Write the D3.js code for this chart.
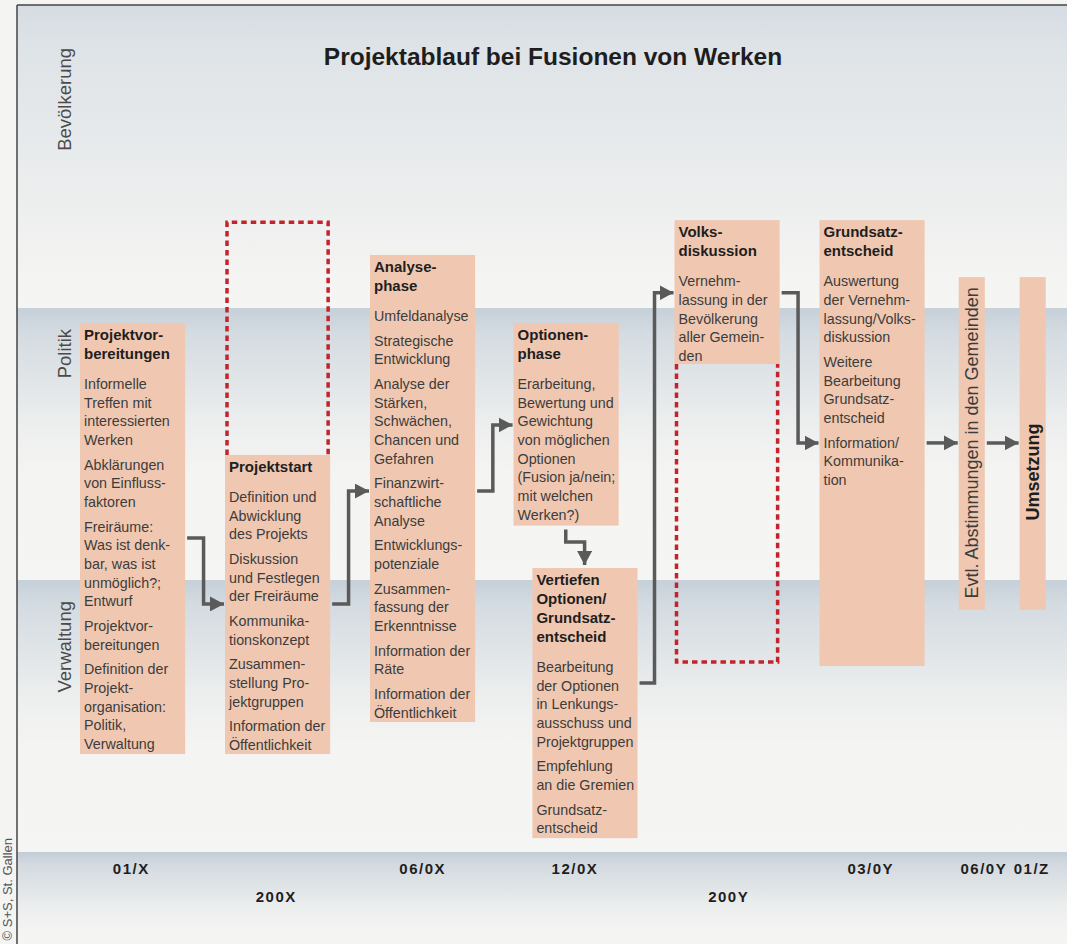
<!DOCTYPE html>
<html>
<head>
<meta charset="utf-8">
<script src="https://cdn.jsdelivr.net/npm/d3@7"></script>
<style>
body { margin: 0; background: #f4f4f2; }
svg { display: block; }
</style>
</head>
<body>
<script>
// Chart content
const title = "Projektablauf bei Fusionen von Werken";
const lanes = ["Bevölkerung", "Politik", "Verwaltung"];
const monthLabels = ["01/X", "06/0X", "12/0X", "03/0Y", "06/0Y", "01/Z"];
const monthPos = [0.35, 2.36, 3.41, 5.45, 6.23, 6.56];
const yearLabels = ["200X", "200Y"];
const yearPos = [1.35, 4.47];

// phases: title lines, paragraphs (lines), column, lane span
const phaseTitles = [
  ["Projektvor-", "bereitungen"],
  ["Projektstart"],
  ["Analyse-", "phase"],
  ["Optionen-", "phase"],
  ["Vertiefen", "Optionen/", "Grundsatz-", "entscheid"],
  ["Volks-", "diskussion"],
  ["Grundsatz-", "entscheid"]
];
const phaseItems = [
  [["Informelle", "Treffen mit", "interessierten", "Werken"], ["Abklärungen", "von Einfluss-", "faktoren"],
   ["Freiräume:", "Was ist denk-", "bar, was ist", "unmöglich?;", "Entwurf"], ["Projektvor-", "bereitungen"],
   ["Definition der", "Projekt-", "organisation:", "Politik,", "Verwaltung"]],
  [["Definition und", "Abwicklung", "des Projekts"], ["Diskussion", "und Festlegen", "der Freiräume"],
   ["Kommunika-", "tionskonzept"], ["Zusammen-", "stellung Pro-", "jektgruppen"], ["Information der", "Öffentlichkeit"]],
  [["Umfeldanalyse"], ["Strategische", "Entwicklung"], ["Analyse der", "Stärken,", "Schwächen,", "Chancen und", "Gefahren"],
   ["Finanzwirt-", "schaftliche", "Analyse"], ["Entwicklungs-", "potenziale"], ["Zusammen-", "fassung der", "Erkenntnisse"],
   ["Information der", "Räte"], ["Information der", "Öffentlichkeit"]],
  [["Erarbeitung,", "Bewertung und", "Gewichtung", "von möglichen", "Optionen", "(Fusion ja/nein;", "mit welchen", "Werken?)"]],
  [["Bearbeitung", "der Optionen", "in Lenkungs-", "ausschuss und", "Projektgruppen"], ["Empfehlung", "an die Gremien"],
   ["Grundsatz-", "entscheid"]],
  [["Vernehm-", "lassung in der", "Bevölkerung", "aller Gemein-", "den"]],
  [["Auswertung", "der Vernehm-", "lassung/Volks-", "diskussion"], ["Weitere", "Bearbeitung", "Grundsatz-", "entscheid"],
   ["Information/", "Kommunika-", "tion"]]
];
const stepLabels = ["Evtl. Abstimmungen in den Gemeinden", "Umsetzung"];
const phaseCol = [0, 1, 2, 2.99, 3.12, 4.1, 5.1, 6.06, 6.48];
const phaseSpan = [[1.055, 2.64], [1.54, 2.64], [0.825, 2.522], [1.055, 1.8], [1.956, 2.949],
                   [0.71, 1.206], [0.71, 2.316], [0.898, 2.11], [0.898, 2.11]];
// open (dashed) part of a phase
const dashedPhase = [1, 5];
const dashedSpan = [[0.71, 1.54], [1.206, 2.309]];
// flow arrows between phases: from, to, lane level at start and end
const arrowFrom = [0, 1, 2, 4, 5, 6, 7];
const arrowTo = [1, 2, 3, 5, 6, 7, 8];
const arrowStart = [1.846, 2.088, 1.673, 2.379, 0.95, 1.496, 1.496];
const arrowEnd = [2.088, 1.673, 1.43, 0.95, 1.496, 1.496, 1.496];
const downArrow = {from: 3, to: 4, colStart: 3.35, colEnd: 3.48, level: 1.86};

const width = 1067;
const height = 944;

const svg = d3.select("body").append("svg")
  .attr("width", width)
  .attr("height", height);

const x = d3.scaleLinear().domain([0, 7]).range([80, 1095]);
const y = d3.scaleLinear().domain([0, 1, 2, 3]).range([5, 308, 580, 852]);
const boxW = i => (i >= 7 ? x(0.18) - x(0) : x(0.725) - x(0));

const defs = svg.append("defs");
function grad(id, c0, fade) {
  const g = defs.append("linearGradient").attr("id", id)
    .attr("x1", 0).attr("y1", 0).attr("x2", 0).attr("y2", 1);
  g.append("stop").attr("offset", 0).attr("stop-color", c0);
  g.append("stop").attr("offset", fade * 0.15).attr("stop-color", d3.interpolate(c0, "#f4f4f2")(0.3));
  g.append("stop").attr("offset", fade * 0.7).attr("stop-color", "#eceeee");
  g.append("stop").attr("offset", fade).attr("stop-color", "#f4f4f2");
  g.append("stop").attr("offset", 1).attr("stop-color", "#f5f5f3");
}
grad("g0", "#d5dce2", 0.9);
grad("g1", "#c6d0d9", 0.6);
grad("g2", "#c6d0d9", 0.6);
grad("g3", "#c3cdd7", 0.85);

defs.append("marker").attr("id", "head")
  .attr("markerUnits", "userSpaceOnUse")
  .attr("viewBox", "0 0 14 15")
  .attr("markerWidth", 14).attr("markerHeight", 15)
  .attr("refX", 14).attr("refY", 7.5)
  .attr("orient", "auto")
  .append("path").attr("d", "M0,0L14,7.5L0,15Z").attr("fill", "#5a5a5a");

// lane backgrounds
const bands = [0, 1, 2, 3];
svg.selectAll("rect.band").data(bands).enter().append("rect")
  .attr("class", "band")
  .attr("x", 17)
  .attr("y", d => y(d))
  .attr("width", width - 17)
  .attr("height", d => (d < 3 ? y(d + 1) - y(d) : height - y(d)))
  .attr("fill", d => "url(#g" + d + ")");

// frame
svg.append("line").attr("x1", 17).attr("x2", width).attr("y1", 5).attr("y2", 5)
  .attr("stroke", "#444").attr("stroke-width", 1.5);
svg.append("line").attr("x1", 17).attr("x2", 17).attr("y1", 5).attr("y2", height)
  .attr("stroke", "#444").attr("stroke-width", 1.5);

// title
svg.append("text")
  .attr("x", 553).attr("y", 65)
  .attr("text-anchor", "middle")
  .attr("font-family", "Liberation Sans, Arial, sans-serif")
  .attr("font-weight", "bold")
  .attr("font-size", "24.5px")
  .attr("fill", "#1e1e1e")
  .text(title);

// lane labels
svg.selectAll("text.lane").data(lanes).enter().append("text")
  .attr("class", "lane")
  .attr("transform", (d, i) => "translate(71," + (y(i) + (i === 0 ? 43 : 21)) + ") rotate(-90)")
  .attr("text-anchor", "end")
  .attr("font-family", "Liberation Sans, Arial, sans-serif")
  .attr("font-size", "18.5px")
  .attr("fill", "#4a4a4a")
  .text(d => d);

// copyright
svg.append("text")
  .attr("transform", "translate(12,838) rotate(-90)")
  .attr("text-anchor", "end")
  .attr("font-family", "Liberation Sans, Arial, sans-serif")
  .attr("font-size", "13px")
  .attr("fill", "#555")
  .text("© S+S, St. Gallen");

// phase boxes
const phases = d3.range(phaseCol.length);
svg.selectAll("rect.phase").data(phases).enter().append("rect")
  .attr("class", "phase")
  .attr("x", i => x(phaseCol[i]))
  .attr("y", i => y(phaseSpan[i][0]))
  .attr("width", i => boxW(i))
  .attr("height", i => y(phaseSpan[i][1]) - y(phaseSpan[i][0]))
  .attr("fill", "#f0c8b1");

// dashed open parts
svg.selectAll("path.open").data(dashedPhase).enter().append("path")
  .attr("class", "open")
  .attr("d", (p, k) => {
    const x0 = x(phaseCol[p]) + 2, x1 = x(phaseCol[p]) + boxW(p) - 2;
    const y0 = y(dashedSpan[k][0]), y1 = y(dashedSpan[k][1]);
    // top dashed box opens at the bottom, lower one opens at the top
    return k === 0
      ? "M" + x0 + "," + y1 + "V" + (y0 + 2) + "H" + x1 + "V" + y1
      : "M" + x0 + "," + y0 + "V" + (y1 - 2) + "H" + x1 + "V" + y0;
  })
  .attr("fill", "none")
  .attr("stroke", "#c3242b")
  .attr("stroke-width", 3.5)
  .attr("stroke-dasharray", "5.5,4");

// box texts
phaseTitles.forEach((t, i) => {
  const tx = x(phaseCol[i]) + 4;
  let ty = y(phaseSpan[i][0]) + 17;
  t.forEach((line, j) => {
    if (j > 0) ty += 19;
    svg.append("text").attr("x", tx).attr("y", ty)
      .attr("font-family", "Liberation Sans, Arial, sans-serif")
      .attr("font-weight", "bold").attr("font-size", "15px")
      .attr("fill", "#1e1e1e").text(line);
  });
  ty += 30;
  phaseItems[i].forEach((para, k) => {
    if (k > 0) ty += 24.6;
    para.forEach((line, j) => {
      if (j > 0) ty += 18.7;
      svg.append("text").attr("x", tx).attr("y", ty)
        .attr("font-family", "Liberation Sans, Arial, sans-serif")
        .attr("font-size", "14.3px")
        .attr("fill", "#3c3c3c").text(line);
    });
  });
});

// vertical step labels
stepLabels.forEach((s, k) => {
  const i = 7 + k;
  const cx = x(phaseCol[i]) + boxW(i) / 2 + 6;
  const cy = k === 0 ? y(1.496) : 472;
  svg.append("text")
    .attr("transform", "translate(" + cx + "," + cy + ") rotate(-90)")
    .attr("text-anchor", "middle")
    .attr("font-family", "Liberation Sans, Arial, sans-serif")
    .attr("font-size", "18px")
    .attr("font-weight", k === 1 ? "bold" : "normal")
    .attr("fill", k === 1 ? "#1e1e1e" : "#3c3c3c")
    .text(s);
});

// arrows
const arrowG = svg.append("g")
  .attr("fill", "none").attr("stroke", "#5a5a5a").attr("stroke-width", 3.5)
  .attr("marker-end", "url(#head)");

function elbow(from, to, a, b) {
  const xs = x(phaseCol[from]) + boxW(from) + 2;
  const xe = x(phaseCol[to]) - 1;
  const xm = (xs + xe) / 2 - 2;
  if (Math.abs(y(a) - y(b)) < 1) return "M" + xs + "," + y(a) + "H" + xe;
  return "M" + xs + "," + y(a) + "H" + xm + "V" + y(b) + "H" + xe;
}

arrowFrom.forEach((f, k) => {
  arrowG.append("path").attr("d", elbow(f, arrowTo[k], arrowStart[k], arrowEnd[k]));
});
arrowG.append("path").attr("d",
  "M" + x(downArrow.colStart) + "," + (y(phaseSpan[downArrow.from][1]) + 4) +
  "V" + y(downArrow.level) + "H" + x(downArrow.colEnd) +
  "V" + (y(phaseSpan[downArrow.to][0]) - 3));

// timeline axes
const monthAxis = d3.axisBottom(x)
  .tickValues(monthPos)
  .tickFormat((d, i) => monthLabels[i])
  .tickSize(0);
const yearAxis = d3.axisBottom(x)
  .tickValues(yearPos)
  .tickFormat((d, i) => yearLabels[i])
  .tickSize(0);

function styleAxis(g) {
  g.select(".domain").remove();
  g.selectAll("text")
    .attr("font-family", "Liberation Sans, Arial, sans-serif")
    .attr("font-weight", "bold")
    .attr("font-size", "15px")
    .attr("letter-spacing", "1.5px")
    .attr("fill", "#1e1e1e");
}
svg.append("g").attr("transform", "translate(0,860)").call(monthAxis).call(styleAxis);
svg.append("g").attr("transform", "translate(0,888)").call(yearAxis).call(styleAxis);
</script>
</body>
</html>
